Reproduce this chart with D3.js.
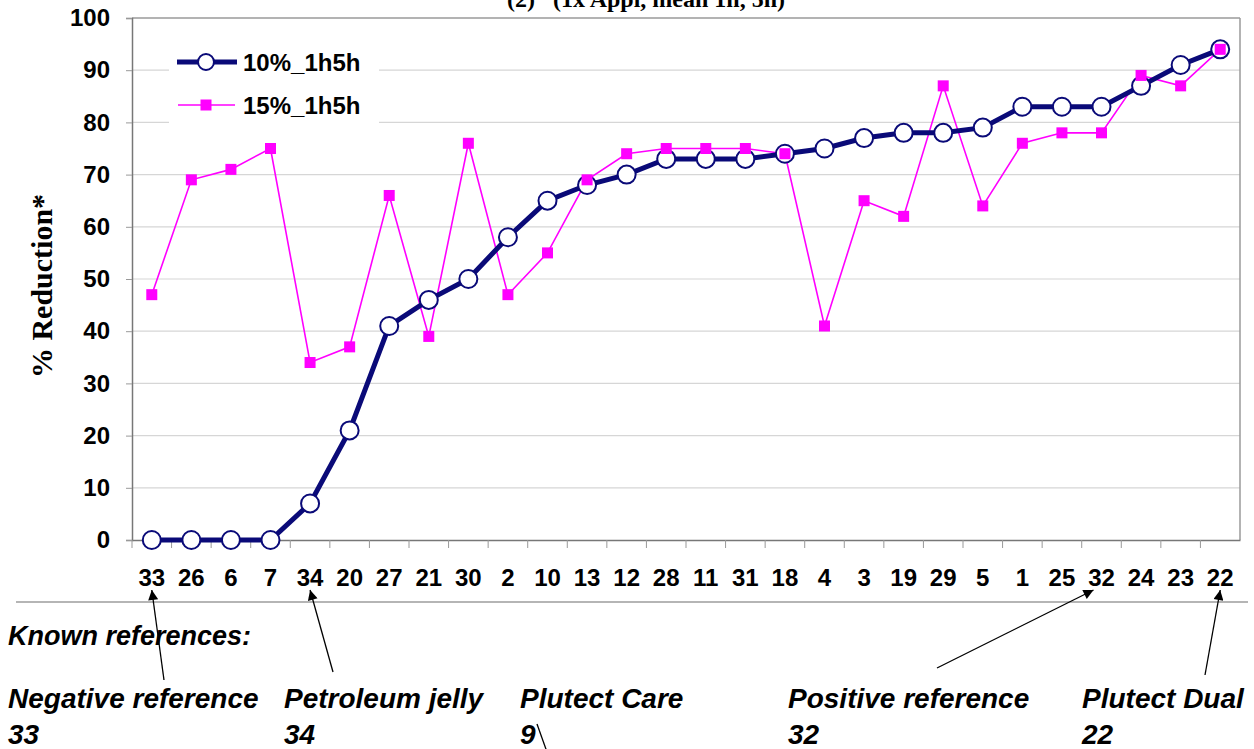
<!DOCTYPE html>
<html>
<head>
<meta charset="utf-8">
<script src="https://cdn.jsdelivr.net/npm/d3@7"></script>
<style>
    body { margin: 0; background: #fff; }
    svg { display: block; }
    text { font-family: "Liberation Sans", Arial, sans-serif; font-weight: bold; fill: #000; }
    .serif { font-family: "Liberation Serif", "Times New Roman", serif; }
</style>
</head>
<body>
<script>
(function(){

    //categories (sample ids, sorted by 10% result)
    var categories = ["33","26","6","7","34","20","27","21","30","2","10","13","12","28",
        "11","31","18","4","3","19","29","5","1","25","32","24","23","22"];

    //series values (% reduction)
    var series10 = [0,0,0,0,7,21,41,46,50,58,65,68,70,73,73,73,74,75,77,78,78,79,83,83,83,87,91,94];
    var series15 = [47,69,71,75,34,37,66,39,76,47,55,69,74,75,75,75,74,41,65,62,87,64,76,78,78,89,87,94];

    var seriesNames = ["10%_1h5h", "15%_1h5h"];
    var yTicks = [0,10,20,30,40,50,60,70,80,90,100];

    //known references under the chart
    var refNames = ["Negative reference", "Petroleum jelly", "Plutect Care", "Positive reference", "Plutect Dual"];
    var refIds = ["33", "34", "9", "32", "22"];

    window.onload = setChart();

    function setChart(){
        var width = 1254,
            height = 749;

        var svg = d3.select("body")
            .append("svg")
            .attr("width", width)
            .attr("height", height);

        var left = 132, right = 1240, top = 18, bottom = 540;

        var xBand = d3.scaleBand()
            .domain(categories)
            .range([left, right]);

        var y = d3.scaleLinear()
            .domain([0, 100])
            .range([bottom, top]);

        function cx(d){ return xBand(d) + xBand.bandwidth() / 2; }

        //title, cut at the top of the picture
        svg.append("text")
            .attr("class", "serif")
            .attr("x", 646)
            .attr("y", 7)
            .attr("text-anchor", "middle")
            .style("font-size", "24px")
            .style("white-space", "pre")
            .text("(2)   (1x Appl, mean 1h, 5h)");

        //gridlines
        svg.append("g")
            .selectAll("line")
            .data(yTicks.slice(1))
            .enter()
            .append("line")
            .attr("x1", left)
            .attr("x2", right)
            .attr("y1", function(d){ return y(d); })
            .attr("y2", function(d){ return y(d); })
            .attr("stroke", function(d){ return d == 100 ? "#9a9a9a" : "#d6d6d6"; })
            .attr("stroke-width", function(d){ return d == 100 ? 1.5 : 1.2; });

        //right border of plot area
        svg.append("line")
            .attr("x1", right).attr("x2", right)
            .attr("y1", top).attr("y2", bottom)
            .attr("stroke", "#9a9a9a")
            .attr("stroke-width", 1.5);

        //y axis
        var yAxis = svg.append("g")
            .attr("transform", "translate(" + left + ",0)")
            .call(d3.axisLeft(y).tickValues(yTicks).tickSize(6).tickPadding(16));
        yAxis.select(".domain").attr("stroke", "#777").attr("stroke-width", 1.5);
        yAxis.selectAll(".tick line").attr("stroke", "#999");
        yAxis.selectAll(".tick text")
            .style("font-size", "24px")
            .style("font-family", "'Liberation Sans', Arial, sans-serif")
            .style("font-weight", "bold")
            .attr("fill", "#000");

        //x axis
        var xAxis = svg.append("g")
            .attr("transform", "translate(0," + bottom + ")")
            .call(d3.axisBottom(xBand).tickSize(0).tickPadding(29));
        xAxis.select(".domain").attr("stroke", "#777").attr("stroke-width", 1.5);
        xAxis.selectAll(".tick text")
            .style("font-size", "24px")
            .style("font-family", "'Liberation Sans', Arial, sans-serif")
            .style("font-weight", "bold")
            .attr("fill", "#000");

        //x tick marks at category boundaries
        svg.append("g")
            .selectAll("line")
            .data(categories)
            .enter()
            .append("line")
            .attr("x1", function(d){ return xBand(d); })
            .attr("x2", function(d){ return xBand(d); })
            .attr("y1", bottom)
            .attr("y2", bottom + 8)
            .attr("stroke", "#999");

        //y axis title
        svg.append("text")
            .attr("class", "serif")
            .attr("transform", "translate(52,286) rotate(-90)")
            .attr("text-anchor", "middle")
            .style("font-size", "30px")
            .text("% Reduction*");

        var line = d3.line()
            .x(function(d, i){ return cx(categories[i]); })
            .y(function(d){ return y(d); });

        //15% series
        svg.append("path")
            .datum(series15)
            .attr("d", line)
            .attr("fill", "none")
            .attr("stroke", "#ff00ff")
            .attr("stroke-width", 1.6);

        //10% series
        svg.append("path")
            .datum(series10)
            .attr("d", line)
            .attr("fill", "none")
            .attr("stroke", "#0a0a78")
            .attr("stroke-width", 5);

        svg.append("g")
            .selectAll("circle")
            .data(series10)
            .enter()
            .append("circle")
            .attr("cx", function(d, i){ return cx(categories[i]); })
            .attr("cy", function(d){ return y(d); })
            .attr("r", 9)
            .attr("fill", "#fff")
            .attr("stroke", "#0a0a78")
            .attr("stroke-width", 2);

        svg.append("g")
            .selectAll("rect")
            .data(series15)
            .enter()
            .append("rect")
            .attr("x", function(d, i){ return cx(categories[i]) - 5.5; })
            .attr("y", function(d){ return y(d) - 5.5; })
            .attr("width", 11)
            .attr("height", 11)
            .attr("fill", "#ff00ff");

        //legend
        var legend = svg.append("g");
        legend.append("rect")
            .attr("x", 169).attr("y", 38)
            .attr("width", 210).attr("height", 88)
            .attr("fill", "#fff");

        var l1 = legend.append("g").attr("transform", "translate(0,62)");
        l1.append("line").attr("x1", 177).attr("x2", 237).attr("y1", 0).attr("y2", 0)
            .attr("stroke", "#0a0a78").attr("stroke-width", 5);
        l1.append("circle").attr("cx", 206).attr("cy", 0).attr("r", 8)
            .attr("fill", "#fff").attr("stroke", "#0a0a78").attr("stroke-width", 2);
        l1.append("text").attr("x", 243).attr("y", 9).style("font-size", "24px").text(seriesNames[0]);

        var l2 = legend.append("g").attr("transform", "translate(0,105)");
        l2.append("line").attr("x1", 178).attr("x2", 235).attr("y1", 0).attr("y2", 0)
            .attr("stroke", "#ff00ff").attr("stroke-width", 1.6);
        l2.append("rect").attr("x", 200.5).attr("y", -5.5).attr("width", 11).attr("height", 11)
            .attr("fill", "#ff00ff");
        l2.append("text").attr("x", 243).attr("y", 9).style("font-size", "24px").text(seriesNames[1]);

        //frame line under axis labels
        svg.append("line")
            .attr("x1", 16).attr("x2", 1248)
            .attr("y1", 602).attr("y2", 602)
            .attr("stroke", "#b5b5b5")
            .attr("stroke-width", 2);

        //known references block
        svg.append("text")
            .attr("x", 8)
            .attr("y", 645)
            .style("font-size", "27px")
            .style("font-style", "italic")
            .text("Known references:");

        var refX = [8, 284, 520, 788, 1082];
        var tails = [[164, 680], [333, 672], [537, 724], [937, 668], [1205, 675]];

        var refs = svg.append("g")
            .selectAll("g")
            .data(refNames)
            .enter()
            .append("g");

        refs.append("text")
            .attr("x", function(d, i){ return refX[i]; })
            .attr("y", 708)
            .style("font-size", "28px")
            .style("font-style", "italic")
            .text(function(d){ return d; });

        refs.append("text")
            .attr("x", function(d, i){ return refX[i]; })
            .attr("y", 744)
            .style("font-size", "28px")
            .style("font-style", "italic")
            .text(function(d, i){ return refIds[i]; });

        //arrows pointing at the reference ids on the axis
        svg.append("defs").append("marker")
            .attr("id", "head")
            .attr("viewBox", "0 0 10 10")
            .attr("refX", 10).attr("refY", 5)
            .attr("markerWidth", 13).attr("markerHeight", 10)
            .attr("markerUnits", "userSpaceOnUse")
            .attr("orient", "auto")
            .append("path")
            .attr("d", "M0,0L10,5L0,10Z")
            .attr("fill", "#000");

        refIds.forEach(function(id, i){
            var t = tails[i];
            if (categories.indexOf(id) < 0){
                //not on the axis: plain line running off the picture
                svg.append("line")
                    .attr("x1", t[0]).attr("y1", t[1])
                    .attr("x2", t[0] + 10).attr("y2", 752)
                    .attr("stroke", "#000").attr("stroke-width", 1.3);
                return;
            }
            var tipX = id == "32" ? cx(id) - 8 : cx(id);
            svg.append("line")
                .attr("x1", t[0]).attr("y1", t[1])
                .attr("x2", tipX).attr("y2", 590)
                .attr("stroke", "#000")
                .attr("stroke-width", 1.3)
                .attr("marker-end", "url(#head)");
        });
    };

})();
</script>
</body>
</html>
